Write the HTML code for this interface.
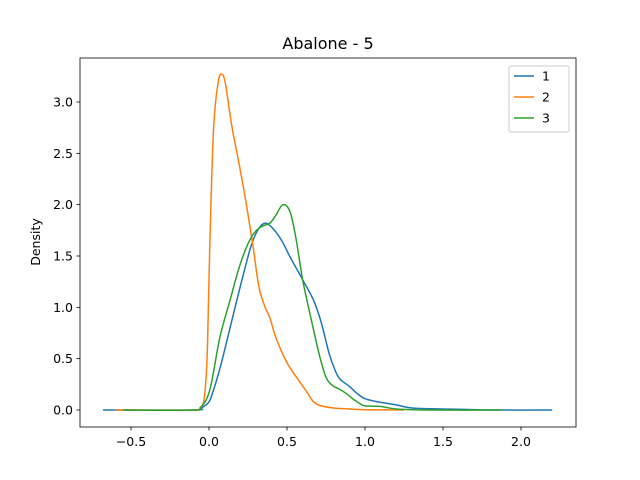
<!DOCTYPE html>
<html><head><meta charset="utf-8"><style>
body{margin:0;background:#fff}
svg{display:block;font-family:"DejaVu Sans","Liberation Sans",sans-serif}
</style></head><body>
<svg id="chart" width="640" height="480">
<rect width="640" height="480" fill="#fff"/>
<text x="328" y="49" font-size="16" text-anchor="middle">Abalone - 5</text>
<g id="plot"></g>
<rect x="80" y="58" width="496" height="369" fill="none" stroke="#000" stroke-width="0.8"/>
<g id="xticks"></g><g id="yticks"></g>
<text transform="translate(40,242) rotate(-90)" font-size="12.5" text-anchor="middle">Density</text>
<g>
<rect x="509" y="66" width="60" height="66" fill="#fff" stroke="#ccc" rx="2"/>
<g id="legend"></g>
</g>
</svg>
<script>
const seriesNames=["1","2","3"];
const colors=["#1f77b4","#ff7f0e","#2ca02c"];
const s1x=[-0.68,-0.1,-0.05,0,0.03,0.06,0.09,0.135,0.2,0.27,0.32,0.365,0.42,0.47,0.52,0.6,0.67,0.72,0.77,0.81,0.84,0.9,0.95,1.0,1.08,1.2,1.3,1.5,1.8,2.2];
const s1y=[0,0,0.02,0.08,0.2,0.35,0.52,0.8,1.2,1.6,1.77,1.82,1.75,1.64,1.49,1.27,1.07,0.85,0.55,0.38,0.3,0.23,0.16,0.11,0.08,0.05,0.02,0.01,0,0];
const s2x=[-0.6,-0.1,-0.06,-0.03,-0.01,0.006,0.03,0.06,0.083,0.105,0.147,0.2,0.24,0.28,0.32,0.36,0.39,0.43,0.5,0.57,0.63,0.67,0.72,0.8,0.9,1.0,1.25];
const s2y=[0,0,0.02,0.12,0.6,1.66,2.76,3.2,3.27,3.18,2.76,2.34,2.0,1.62,1.2,1.0,0.9,0.7,0.46,0.3,0.17,0.08,0.04,0.02,0.01,0.003,0];
const s3x=[-0.55,-0.1,-0.05,0.006,0.07,0.135,0.2,0.27,0.33,0.39,0.43,0.474,0.52,0.56,0.6,0.66,0.71,0.75,0.79,0.84,0.88,0.93,0.97,1.0,1.1,1.2,1.4,1.87];
const s3y=[0,0,0.03,0.2,0.71,1.07,1.42,1.68,1.78,1.82,1.9,2.0,1.93,1.65,1.27,0.85,0.52,0.32,0.24,0.2,0.16,0.1,0.06,0.04,0.035,0.01,0,0];
const xTicks=[-0.5,0.0,0.5,1.0,1.5,2.0];
const xTickLabels=["−0.5","0.0","0.5","1.0","1.5","2.0"];
const yTicks=[0,0.5,1,1.5,2,2.5,3];
const yTickLabels=["0.0","0.5","1.0","1.5","2.0","2.5","3.0"];
const NS="http://www.w3.org/2000/svg";
const X=v=>209+v*156, Y=v=>410-v*102.67;
function mk(t,a,p){const e=document.createElementNS(NS,t);for(const k in a)e.setAttribute(k,a[k]);p.appendChild(e);return e;}
const plot=document.getElementById('plot');
[[s1x,s1y],[s2x,s2y],[s3x,s3y]].forEach((s,i)=>{
 const pts=s[0].map((x,j)=>[X(x),Y(s[1][j])]);
 let d="M"+pts[0][0]+","+pts[0][1];
 for(let j=0;j<pts.length-1;j++){
  const p0=pts[Math.max(j-1,0)],p1=pts[j],p2=pts[j+1],p3=pts[Math.min(j+2,pts.length-1)];
  const c1=[p1[0]+(p2[0]-p0[0])/6,p1[1]+(p2[1]-p0[1])/6],c2=[p2[0]-(p3[0]-p1[0])/6,p2[1]-(p3[1]-p1[1])/6];
  d+=` C${c1[0]},${c1[1]} ${c2[0]},${c2[1]} ${p2[0]},${p2[1]}`;
 }
 const e=mk('path',{d:d,fill:'none',stroke:colors[i],'stroke-width':1.5},plot);
 
 
});
const xt=document.getElementById('xticks');
xTicks.forEach((v,i)=>{
 mk('line',{x1:X(v),x2:X(v),y1:427,y2:430.5,stroke:'#000','stroke-width':0.8},xt);
 const t=mk('text',{x:X(v),y:446,'font-size':12.5,'text-anchor':'middle'},xt);t.textContent=xTickLabels[i];
 
 
});
const yt=document.getElementById('yticks');
yTicks.forEach((v,i)=>{
 mk('line',{x1:76.5,x2:80,y1:Y(v),y2:Y(v),stroke:'#000','stroke-width':0.8},yt);
 const t=mk('text',{x:73,y:Y(v)+4.5,'font-size':12.5,'text-anchor':'end'},yt);t.textContent=yTickLabels[i];
 
 
});
const lg=document.getElementById('legend');
seriesNames.forEach((n,i)=>{
 const y=76+i*21;
 mk('line',{x1:514,x2:534,y1:y,y2:y,stroke:colors[i],'stroke-width':1.5},lg);
 const t=mk('text',{x:542,y:y+4.5,'font-size':12.5},lg);t.textContent=n;
 
 
});
</script>
</body></html>
